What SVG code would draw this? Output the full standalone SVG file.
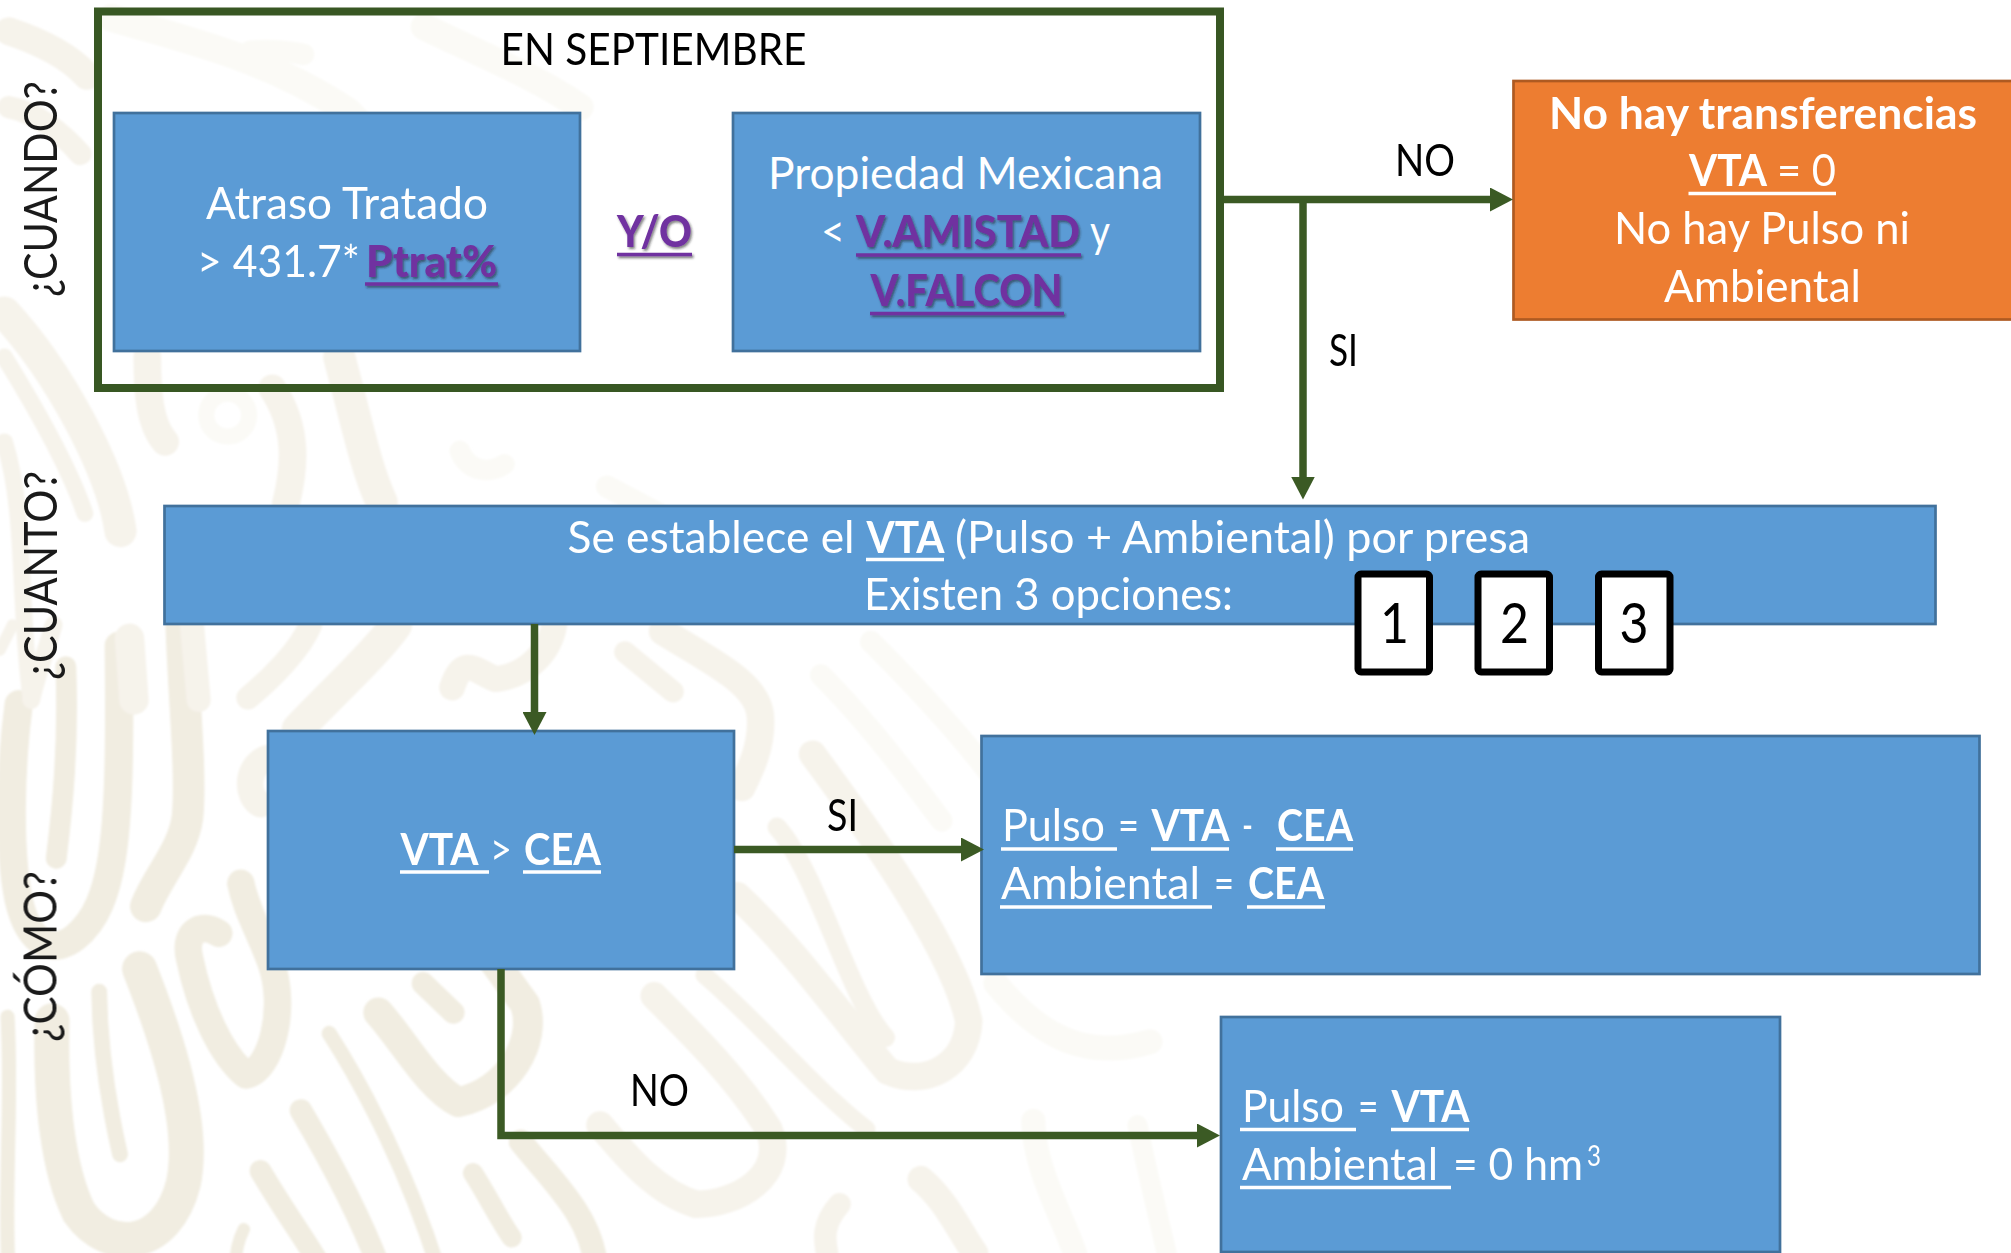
<svg xmlns="http://www.w3.org/2000/svg" width="2011" height="1253" viewBox="0 0 2011 1253">
<style>
.bg{fill:none;stroke-linecap:round;stroke-linejoin:round}
.b1{stroke:#f1ede1}
.b2{stroke:#f6f3eb}
.b3{stroke:#fbfaf6}
.box{fill:#5b9bd5;stroke:#41719c;stroke-width:2.7}
.org{fill:#ed7d31;stroke:#ae5a21;stroke-width:2.7}
.frame{fill:none;stroke:#385723;stroke-width:8}
.num{fill:#fff;stroke:#000;stroke-width:7}
.conn{fill:none;stroke:#3b5a24;stroke-width:7.5}
text{font-family:Lato,"Open Sans","Liberation Sans",sans-serif;font-size:44px}
.s{font-size:47px;fill:#1a1a1a}
.k{fill:#000}
.w{fill:#fff}
.d{font-weight:700}
.p{fill:#7030a0;font-weight:900}
.u{stroke:#fff;stroke-width:3.4}
.up{stroke:#7030a0;stroke-width:3.6}
</style>
<defs>
<marker id="head" viewBox="0 0 23 24" refX="1" refY="12" markerWidth="23" markerHeight="24" markerUnits="userSpaceOnUse" orient="auto"><path d="M0 0L23 12L0 24Z" fill="#3b5a24"/></marker>
<filter id="shadow" x="-10%" y="-10%" width="120%" height="125%"><feDropShadow dx="1.5" dy="2" stdDeviation="0.8" flood-color="#222" flood-opacity="0.55"/></filter>
<filter id="soft" x="-5%" y="-5%" width="110%" height="110%"><feGaussianBlur stdDeviation="1"/></filter>
</defs>
<rect width="2011" height="1253" fill="#fff"/>
<g id="background" filter="url(#soft)">
<g class="bg b1" transform="translate(0,600) scale(.4167)">
<path stroke-width="68" d="M45 250C25 400 20 600 45 720C70 830 130 850 180 810C280 730 290 550 285 110"/>
<path stroke-width="50" d="M158 160C165 350 150 500 135 620"/>
<path stroke-width="76" d="M435 60C440 220 460 420 450 520C440 600 380 660 350 735"/>
<path stroke-width="84" d="M125 1010C120 1200 140 1370 190 1470C260 1570 400 1560 440 1400C470 1260 400 1050 335 885"/>
<path stroke-width="38" d="M238 940C240 1090 265 1230 288 1330"/>
<path stroke-width="66" d="M525 800C480 770 440 800 455 860C480 980 530 1090 590 1140C650 1130 690 980 650 870C620 790 590 740 578 680"/>
<path stroke-width="52" d="M625 1370C690 1480 730 1530 770 1600"/>
<path stroke-width="36" d="M790 1040C880 1180 980 1380 1050 1600"/>
<path stroke-width="54" d="M722 1225C790 1340 860 1470 910 1600"/>
<path stroke-width="48" d="M1135 1375C1170 1430 1200 1490 1228 1530"/>
<path stroke-width="72" d="M908 990C970 1060 1030 1170 1100 1205C1220 1180 1290 1060 1260 970L1180 860"/>
<path stroke-width="54" d="M1015 920L1088 990"/>
<path stroke-width="58" d="M1250 1300C1330 1400 1420 1480 1430 1600"/>
<path stroke-width="30" d="M585 1510C570 1540 565 1570 565 1600"/>
<path stroke-width="34" d="M18 1000C30 1200 10 1400 20 1600"/>
</g>
<g class="bg b2" transform="translate(0,600) scale(.4167)">
<path stroke-width="56" d="M595 235C650 190 720 120 745 60"/>
<path stroke-width="78" d="M715 310C800 220 900 130 950 60"/>
<path stroke-width="62" d="M1085 210C1110 130 1140 170 1190 190C1270 180 1320 120 1330 60"/>
<path stroke-width="64" d="M640 380C590 400 590 470 625 490"/>
<path stroke-width="28" d="M30 60L0 120"/>
</g>
<g class="bg b2" transform="scale(.4464)">
<path stroke-width="72" d="M10 700C130 830 250 1050 270 1190"/>
<path stroke-width="38" d="M10 800C90 930 160 1060 190 1150"/>
<path stroke-width="38" d="M10 990C60 1150 40 1350 70 1568"/>
<path stroke-width="62" d="M330 800C330 880 335 950 370 990"/>
<path stroke-width="66" d="M290 1430L300 1568"/>
<path stroke-width="54" d="M430 1400L445 1568"/>
<path stroke-width="40" d="M120 1400C100 1470 80 1520 70 1568"/>
<path stroke-width="62" d="M610 870C670 960 660 1050 640 1130"/>
<path stroke-width="72" d="M760 800C800 950 820 1050 855 1125"/>
<path stroke-width="62" d="M20 70C80 90 150 120 195 170"/>
<path stroke-width="50" d="M20 240C80 250 140 300 180 345"/>
</g>
<g class="bg b3" transform="scale(.4464)">
<circle cx="510" cy="930" r="48" stroke-width="36"/>
<path stroke-width="48" d="M560 115C600 110 650 115 680 122"/>
<path stroke-width="62" d="M250 40C420 90 600 130 780 250C820 290 850 330 860 370"/>
<path stroke-width="46" d="M1030 1010C1050 1060 1100 1060 1130 1040"/>
<path stroke-width="50" d="M1360 1090L1568 1200"/>
<path stroke-width="60" d="M950 60C1050 110 1200 170 1300 240"/>
</g>
<g class="bg b2" transform="translate(600,600) scale(.4167)">
<path stroke-width="52" d="M60 125L175 220"/>
<path stroke-width="66" d="M150 75C270 150 380 200 385 280C390 350 360 410 340 450"/>
<path stroke-width="46" d="M425 545C520 650 600 960 685 1050"/>
<path stroke-width="66" d="M330 710C460 830 580 1000 690 1130C780 1170 880 1120 885 1010C850 850 680 600 510 370"/>
<path stroke-width="66" d="M130 950C230 1050 330 1150 405 1270C450 1380 330 1450 230 1450C130 1420 60 1330 0 1260"/>
<path stroke-width="42" d="M250 900C380 1010 510 1170 640 1270"/>
<path stroke-width="64" d="M770 1390C830 1440 860 1510 900 1568"/>
<path stroke-width="54" d="M575 1450C530 1500 540 1540 545 1568"/>
</g>
<g class="bg b3" transform="translate(600,600) scale(.4167)">
<path stroke-width="52" d="M530 180C650 300 760 450 820 530"/>
<path stroke-width="52" d="M650 100C780 230 900 360 980 480"/>
<path stroke-width="60" d="M950 920C1040 1030 1150 1110 1320 1060"/>
<path stroke-width="58" d="M1040 1250C1040 1360 1110 1480 1140 1568"/>
<path stroke-width="48" d="M1290 1260C1310 1360 1340 1480 1360 1568"/>
</g>
</g>

<g id="label-cuando"><text class="s" transform="translate(56.5,297) rotate(-90)" textLength="216" lengthAdjust="spacingAndGlyphs">¿CUANDO?</text></g>
<g id="label-cuanto"><text class="s" transform="translate(56.5,680) rotate(-90)" textLength="209" lengthAdjust="spacingAndGlyphs">¿CUANTO?</text></g>
<g id="label-como"><text class="s" transform="translate(56.5,1042) rotate(-90)" textLength="171" lengthAdjust="spacingAndGlyphs">¿CÓMO?</text></g>

<g id="frame-septiembre">
<rect class="frame" x="98" y="11.5" width="1122" height="376.5"/>
<text class="k" x="500.5" y="65" textLength="306" lengthAdjust="spacingAndGlyphs">EN SEPTIEMBRE</text>
</g>

<g id="node-atraso">
<rect class="box" x="114" y="113" width="466" height="238"/>
<text class="w" x="206" y="219" textLength="282" lengthAdjust="spacingAndGlyphs">Atraso Tratado</text>
<text class="w" x="197" y="276.5" textLength="163" lengthAdjust="spacingAndGlyphs">&gt; 431.7*</text>
<g filter="url(#shadow)"><text class="p" x="366" y="276.5" textLength="131" lengthAdjust="spacingAndGlyphs">Ptrat%</text>
<line class="up" x1="365" y1="284" x2="498" y2="284"/></g>
</g>

<g id="node-yo" filter="url(#shadow)">
<text class="p" x="617" y="247" textLength="75" lengthAdjust="spacingAndGlyphs">Y/O</text>
<line class="up" x1="617" y1="254.5" x2="692" y2="254.5"/>
</g>

<g id="node-propiedad">
<rect class="box" x="733" y="113" width="467" height="238"/>
<text class="w" x="768" y="189" textLength="395" lengthAdjust="spacingAndGlyphs">Propiedad Mexicana</text>
<text class="w" x="821" y="247" textLength="24" lengthAdjust="spacingAndGlyphs">&lt;</text>
<text class="w" x="1090" y="247" textLength="20" lengthAdjust="spacingAndGlyphs">y</text>
<g filter="url(#shadow)"><text class="p" x="856" y="247" textLength="224" lengthAdjust="spacingAndGlyphs">V.AMISTAD</text>
<line class="up" x1="856" y1="255" x2="1081" y2="255"/>
<text class="p" x="870.5" y="305.5" textLength="192" lengthAdjust="spacingAndGlyphs">V.FALCON</text>
<line class="up" x1="870" y1="313.5" x2="1064" y2="313.5"/></g>
</g>

<g id="node-no-transferencias">
<rect class="org" x="1513.5" y="81" width="500" height="238.5"/>
<text class="w d" x="1549" y="128.5" textLength="428" lengthAdjust="spacingAndGlyphs">No hay transferencias</text>
<text class="w d" x="1689" y="186" textLength="78" lengthAdjust="spacingAndGlyphs">VTA</text>
<text class="w" x="1777" y="186" textLength="59" lengthAdjust="spacingAndGlyphs">= 0</text>
<line class="u" x1="1688.5" y1="193.5" x2="1836" y2="193.5"/>
<text class="w" x="1614" y="244" textLength="296" lengthAdjust="spacingAndGlyphs">No hay Pulso ni</text>
<text class="w" x="1664" y="302" textLength="197" lengthAdjust="spacingAndGlyphs">Ambiental</text>
</g>

<g id="node-vta-opciones">
<rect class="box" x="164.5" y="506" width="1771" height="118"/>
<text class="w" x="567.5" y="552.5" textLength="287" lengthAdjust="spacingAndGlyphs">Se establece el</text>
<text class="w d" x="866.5" y="552.5" textLength="78" lengthAdjust="spacingAndGlyphs">VTA</text>
<line class="u" x1="866" y1="559.5" x2="944" y2="559.5"/>
<text class="w" x="955" y="552.5" textLength="575" lengthAdjust="spacingAndGlyphs">(Pulso + Ambiental) por presa</text>
<text class="w" x="864" y="609.5" textLength="369" lengthAdjust="spacingAndGlyphs">Existen 3 opciones:</text>
</g>
<g id="option-1"><rect class="num" x="1358" y="574" width="71.5" height="98" rx="3"/><text class="k" x="1380" y="643" style="font-size:56px" textLength="29" lengthAdjust="spacingAndGlyphs">1</text></g>
<g id="option-2"><rect class="num" x="1478" y="574" width="71.5" height="98" rx="3"/><text class="k" x="1500" y="643" style="font-size:56px" textLength="29" lengthAdjust="spacingAndGlyphs">2</text></g>
<g id="option-3"><rect class="num" x="1598.5" y="574" width="71.5" height="98" rx="3"/><text class="k" x="1619.5" y="643" style="font-size:56px" textLength="29" lengthAdjust="spacingAndGlyphs">3</text></g>

<g id="node-vta-cea">
<rect class="box" x="268" y="731" width="466" height="238"/>
<text class="w d" x="400.5" y="865" textLength="78" lengthAdjust="spacingAndGlyphs">VTA</text>
<line class="u" x1="400" y1="872" x2="489" y2="872"/>
<text class="w" x="490" y="865" textLength="22" lengthAdjust="spacingAndGlyphs">&gt;</text>
<text class="w d" x="524" y="865" textLength="77" lengthAdjust="spacingAndGlyphs">CEA</text>
<line class="u" x1="523" y1="872" x2="601" y2="872"/>
</g>

<g id="node-si-result">
<rect class="box" x="981.5" y="736" width="998" height="238"/>
<text class="w" x="1002" y="841" textLength="103" lengthAdjust="spacingAndGlyphs">Pulso</text>
<line class="u" x1="1001" y1="849" x2="1117" y2="849"/>
<text class="w" x="1118" y="841" textLength="21" lengthAdjust="spacingAndGlyphs">=</text>
<text class="w d" x="1151.5" y="841" textLength="78" lengthAdjust="spacingAndGlyphs">VTA</text>
<line class="u" x1="1151" y1="849" x2="1229" y2="849"/>
<text class="w" x="1242" y="841" textLength="11" lengthAdjust="spacingAndGlyphs">-</text>
<text class="w d" x="1277" y="841" textLength="76" lengthAdjust="spacingAndGlyphs">CEA</text>
<line class="u" x1="1276" y1="849" x2="1353" y2="849"/>
<text class="w" x="1001" y="899" textLength="199" lengthAdjust="spacingAndGlyphs">Ambiental</text>
<line class="u" x1="1000" y1="907" x2="1212" y2="907"/>
<text class="w" x="1214" y="899" textLength="20" lengthAdjust="spacingAndGlyphs">=</text>
<text class="w d" x="1248" y="899" textLength="76" lengthAdjust="spacingAndGlyphs">CEA</text>
<line class="u" x1="1247" y1="907" x2="1325" y2="907"/>
</g>

<g id="node-no-result">
<rect class="box" x="1221" y="1017" width="559" height="235"/>
<text class="w" x="1242" y="1122" textLength="102" lengthAdjust="spacingAndGlyphs">Pulso</text>
<line class="u" x1="1240" y1="1129.5" x2="1356" y2="1129.5"/>
<text class="w" x="1358" y="1122" textLength="20.5" lengthAdjust="spacingAndGlyphs">=</text>
<text class="w d" x="1391.5" y="1122" textLength="78" lengthAdjust="spacingAndGlyphs">VTA</text>
<line class="u" x1="1391" y1="1129.5" x2="1469" y2="1129.5"/>
<text class="w" x="1242" y="1180" textLength="196" lengthAdjust="spacingAndGlyphs">Ambiental</text>
<line class="u" x1="1240" y1="1187.5" x2="1451" y2="1187.5"/>
<text class="w" x="1453" y="1180" textLength="130" lengthAdjust="spacingAndGlyphs">= 0 hm</text>
<text class="w" x="1587" y="1165.5" style="font-size:28px" textLength="14" lengthAdjust="spacingAndGlyphs">3</text>
</g>

<g id="connectors">
<line class="conn" x1="1224" y1="199.5" x2="1491" y2="199.5" marker-end="url(#head)"/>
<line class="conn" x1="1303" y1="199.5" x2="1303" y2="477.5" marker-end="url(#head)"/>
<line class="conn" x1="534.5" y1="624" x2="534.5" y2="713" marker-end="url(#head)"/>
<line class="conn" x1="734" y1="849.5" x2="962" y2="849.5" marker-end="url(#head)"/>
<polyline class="conn" points="501,969 501,1135.5 1198,1135.5" marker-end="url(#head)"/>
<g id="connector-labels">
<text class="k" x="1395" y="176" textLength="60" lengthAdjust="spacingAndGlyphs">NO</text>
<text class="k" x="1329" y="366" textLength="29" lengthAdjust="spacingAndGlyphs">SI</text>
<text class="k" x="827" y="831" textLength="31" lengthAdjust="spacingAndGlyphs">SI</text>
<text class="k" x="630" y="1105.5" textLength="59" lengthAdjust="spacingAndGlyphs">NO</text>
</g>
</g>
</svg>
